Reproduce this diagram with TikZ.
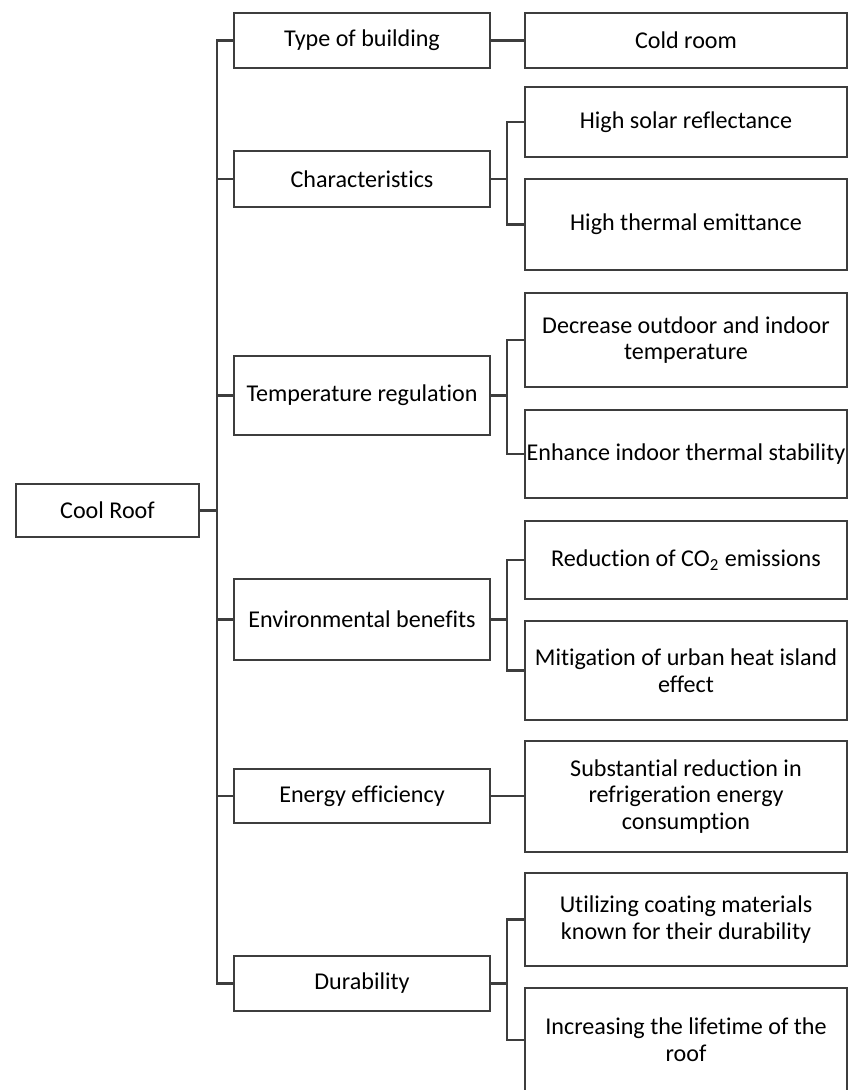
\documentclass[tikz,border=0pt]{standalone}
\usepackage{fontspec}
\setmainfont{Carlito}[Ligatures=NoCommon]
\begin{document}
\begin{tikzpicture}[x=0.5pt,y=-0.5pt,
  lc/.style={draw=black!76, line width=1.1pt},
  box/.style={lc, fill=white, inner sep=0pt, align=center, text=black,
    font=\fontsize{12.05}{13.35}\selectfont},
  midbox/.style={box, minimum width=128pt},
  rbox/.style={box, minimum width=161pt}
]
\useasboundingbox (0,0) rectangle (849,1090);
\clip (0,0) rectangle (849,1090);

\node[box, minimum width=91.5pt, minimum height=26.5pt] (cool) at (107.5,510.5) {Cool Roof};

\node[midbox, minimum height=27.5pt] (tob) at (362,40.5) {Type of building};
\node[midbox, minimum height=28pt] (chr) at (362,179) {Characteristics};
\node[midbox, minimum height=39.5pt] (tmp) at (362,395.5) {Temperature regulation};
\node[midbox, minimum height=40.5pt] (env) at (362,619.5) {Environmental benefits};
\node[midbox, minimum height=27pt] (ene) at (362,796) {Energy efficiency};
\node[midbox, minimum height=27.5pt] (dur) at (362,983.5) {Durability};

\node[rbox, minimum height=27.5pt] (cold) at (686,40.5) {Cold room};
\node[rbox, minimum height=35pt] (hsr) at (686,122) {High solar reflectance};
\node[rbox, minimum height=45.5pt] (hte) at (686,224.5) {High thermal emittance};
\node[rbox, minimum height=47pt] (dec) at (686,340) {Decrease outdoor and indoor\\temperature};
\node[rbox, minimum height=44pt] (enh) at (686,454) {Enhance indoor thermal stability};
\node[rbox, minimum height=39pt] (red) at (686,560) {Reduction of CO\textsubscript{2} emissions};
\node[rbox, minimum height=49.5pt] (mit) at (686,670.5) {Mitigation of urban heat island\\effect};
\node[rbox, minimum height=55.5pt] (sub) at (686,796.5) {Substantial reduction in\\refrigeration energy\\consumption};
\node[rbox, minimum height=46.5pt] (uti) at (686,919.5) {Utilizing coating materials\\known for their durability};
\node[rbox, minimum height=52pt] (inc) at (686,1040) {Increasing the lifetime of the\\roof};

\coordinate (tr) at (217,0);
\coordinate (br) at (507,0);

% trunk
\draw[lc] (tob.west) -- (tob.west -| tr) -- (dur.west -| tr) -- (dur.west);
\draw[lc] (cool.east) -- (cool.east -| tr);
\draw[lc] (chr.west) -- (chr.west -| tr);
\draw[lc] (tmp.west) -- (tmp.west -| tr);
\draw[lc] (env.west) -- (env.west -| tr);
\draw[lc] (ene.west) -- (ene.west -| tr);

% branches
\draw[lc] (tob.east) -- (cold.west);
\draw[lc] (hsr.west) -- (hsr.west -| br) -- (hte.west -| br) -- (hte.west);
\draw[lc] (chr.east) -- (chr.east -| br);
\draw[lc] (dec.west) -- (dec.west -| br) -- (enh.west -| br) -- (enh.west);
\draw[lc] (tmp.east) -- (tmp.east -| br);
\draw[lc] (red.west) -- (red.west -| br) -- (mit.west -| br) -- (mit.west);
\draw[lc] (env.east) -- (env.east -| br);
\draw[lc] (ene.east) -- (ene.east -| sub.west);
\draw[lc] (uti.west) -- (uti.west -| br) -- (inc.west -| br) -- (inc.west);
\draw[lc] (dur.east) -- (dur.east -| br);
\end{tikzpicture}
\end{document}
